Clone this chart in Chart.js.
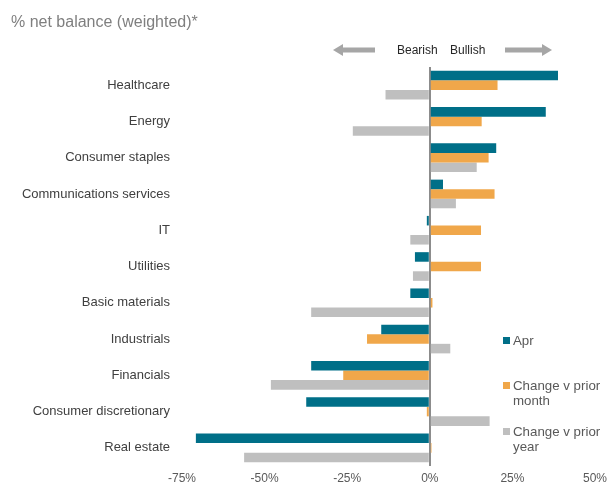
<!DOCTYPE html>
<html lang="en">
<head>
  <meta charset="UTF-8">
  <title>% net balance (weighted)</title>
  <script src="https://cdn.jsdelivr.net/npm/chart.js"></script>
  <style>
    body { margin: 0; background: #fff; font-family: "Liberation Sans", Arial, sans-serif; }
    #wrap { position: relative; width: 607px; height: 485px; }
    #title { position: absolute; left: 11px; top: 13px; font-size: 16px; color: #7f7f7f; }
    .dir { position: absolute; top: 43px; font-size: 12px; color: #262626; }
    #legend { position: absolute; left: 503px; top: 333px; font-size: 13.3px; color: #595959; line-height: 15px; }
    #legend .item { position: absolute; left: 0; white-space: nowrap; }
    #legend .sw { position: absolute; left: 0; top: 4px; width: 7px; height: 7px; }
    #legend .txt { position: absolute; left: 10px; top: 0; }
  </style>
</head>
<body>
<div id="wrap">
  <canvas id="chart" width="607" height="485"></canvas>
  <div id="title">% net balance (weighted)*</div>
  <div class="dir" style="left:397px">Bearish</div>
  <div class="dir" style="left:450px">Bullish</div>
  <div id="legend"></div>
</div>

<script>
  // Secteurs et valeurs (% net balance)
  const sectors = ['Healthcare', 'Energy', 'Consumer staples', 'Communications services', 'IT',
    'Utilities', 'Basic materials', 'Industrials', 'Financials', 'Consumer discretionary', 'Real estate'];
  const apr        = [38.8, 35.1, 20.1, 4.0, -0.9, -4.5, -5.9, -14.7, -35.9, -37.4, -70.8];
  const priorMonth = [20.5, 15.7, 17.8, 19.6, 15.5, 15.5, 0.8, -19.0, -26.2, -0.9, 0.5];
  const priorYear  = [-13.4, -23.3, 14.2, 7.9, -5.9, -5.1, -35.9, 6.2, -48.1, 18.1, -56.2];
  const xTicks = [-75, -50, -25, 0, 25, 50];

  const seriesNames = ['Apr', 'Change v prior month', 'Change v prior year'];
  const legendLines = [['Apr'], ['Change v prior', 'month'], ['Change v prior', 'year']];
  const colors = ['#006f88', '#f0a74a', '#bfbfbf'];

  // Flèches Bearish / Bullish
  const arrowsPlugin = {
    id: 'arrows',
    afterDraw(chart) {
      const c = chart.ctx;
      c.save();
      c.fillStyle = '#a6a6a6';
      function arrow(x1, x2, y) {
        const dir = x2 > x1 ? 1 : -1;
        const head = 10;
        c.fillRect(Math.min(x1, x2 - dir * head), y - 2.5, Math.abs(x2 - x1) - head, 5);
        c.beginPath();
        c.moveTo(x2, y);
        c.lineTo(x2 - dir * head, y - 6);
        c.lineTo(x2 - dir * head, y + 6);
        c.closePath();
        c.fill();
      }
      arrow(375, 333, 50);
      arrow(505, 552, 50);
      c.restore();
    }
  };

  const ctx = document.getElementById('chart').getContext('2d');
  const chart = new Chart(ctx, {
    type: 'bar',
    data: {
      labels: sectors,
      datasets: [apr, priorMonth, priorYear].map((d, i) => ({
        label: seriesNames[i],
        data: d,
        backgroundColor: colors[i],
        borderWidth: 0,
        barPercentage: 1,
        categoryPercentage: 0.79
      }))
    },
    options: {
      indexAxis: 'y',
      responsive: false,
      animation: false,
      layout: { padding: { top: 67, right: 12, left: 0, bottom: 0 } },
      plugins: { legend: { display: false }, tooltip: { enabled: false } },
      scales: {
        x: {
          min: -75, max: 50,
          afterBuildTicks(scale) { scale.ticks = xTicks.map(v => ({ value: v })); },
          afterFit(scale) {
            scale.height = 19;
            scale.paddingLeft = 0;
            scale.paddingRight = 0;
          },
          ticks: {
            callback: v => v + '%',
            color: '#595959',
            font: { family: 'Liberation Sans', size: 12, lineHeight: 1 },
            padding: 7,
            maxRotation: 0
          },
          grid: {
            drawTicks: false,
            color: c => c.tick && c.tick.value === 0 ? '#8c8c8c' : 'rgba(0,0,0,0)',
            lineWidth: c => c.tick && c.tick.value === 0 ? 2 : 0
          },
          border: { display: false }
        },
        y: {
          afterFit(scale) {
            scale.width = 182;
            scale.paddingTop = 0;
            scale.paddingBottom = 0;
          },
          ticks: {
            color: '#404040',
            font: { family: 'Liberation Sans', size: 13 },
            padding: 4
          },
          grid: { display: false },
          border: { display: false }
        }
      }
    },
    plugins: [arrowsPlugin]
  });

  // Légende à droite
  const legend = document.getElementById('legend');
  const tops = [0, 45, 91];
  legendLines.forEach((lines, i) => {
    const item = document.createElement('div');
    item.className = 'item';
    item.style.top = tops[i] + 'px';
    item.innerHTML = '<span class="sw" style="background:' + colors[i] + '"></span>' +
      '<span class="txt">' + lines.join('<br>') + '</span>';
    legend.appendChild(item);
  });
</script>
</body>
</html>
